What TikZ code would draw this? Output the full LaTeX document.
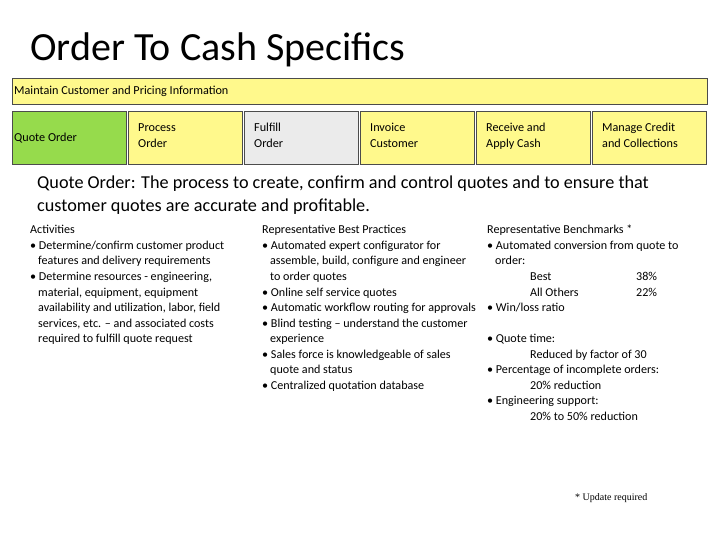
\documentclass[tikz,border=0pt]{standalone}
\usepackage{fontspec}
\setmainfont{Carlito}
\newfontfamily\notefont{Liberation Serif}
\tikzset{
  stepbox/.style={draw=black!70, anchor=north west, minimum width=114pt, minimum height=53pt, inner sep=0pt},
  boxtext/.style={anchor=north west, align=left, inner sep=0pt, font=\fontsize{12.2}{16}\selectfont},
  line/.style={anchor=base west, inner sep=0pt, font=\fontsize{12.1}{14}\selectfont},
}
\begin{document}
\begin{tikzpicture}[x=1pt, y=-1pt]
            \useasboundingbox (0,0) rectangle (728,546);
            \node[anchor=base west, inner sep=0pt, font=\fontsize{40}{44}\selectfont] (title) at (30,60) {Order To Cash Specifics};

            % process bar and steps
            \node[draw=black!70, fill=yellow!45, anchor=north west, minimum width=695pt, minimum height=26pt, inner sep=0pt] (bar) at (12,78) {};
            \node[anchor=west, inner sep=0pt, font=\fontsize{12.2}{14}\selectfont] (bartext) at (14,91) {Maintain Customer and Pricing Information};
            \node[stepbox, fill=green!55!black!45!lime!70] (quote) at (12,111) {};
            \node[stepbox, fill=yellow!45] (process) at (128,111) {};
            \node[stepbox, fill=black!8] (fulfill) at (244,111) {};
            \node[stepbox, fill=yellow!45] (invoice) at (360,111) {};
            \node[stepbox, fill=yellow!45] (receive) at (476,111) {};
            \node[stepbox, fill=yellow!45] (credit) at (592,111) {};
            \node[anchor=west, inner sep=0pt, font=\fontsize{12.2}{14}\selectfont] at ([xshift=2pt]quote.west) {Quote Order};
            \node[boxtext] at (138,123) {Process\\Order};
            \node[boxtext] at (254,123) {Fulfill\\Order};
            \node[boxtext] at (370,123) {Invoice\\Customer};
            \node[boxtext] at (486,123) {Receive and\\Apply Cash};
            \node[boxtext] at (602,123) {Manage Credit\\and Collections};

            % description
            \node[line, font=\fontsize{18.2}{20}\selectfont] (desc1) at (37,188) {Quote Order: The process to create, confirm and control quotes and to ensure that};
            \node[line, font=\fontsize{18.2}{20}\selectfont] (desc2) at (37,211) {customer quotes are accurate and profitable.};

            % activities
            \foreach \t/\x/\y in {Activities/30/233, {• Determine/confirm customer product}/30/249, {features and delivery requirements}/38/264,
              {• Determine resources - engineering,}/30/280, {material, equipment, equipment}/38/296, {availability and utilization, labor, field}/38/311,
              {services, etc. – and associated costs}/38/327, {required to fulfill quote request}/38/342}
              \node[line] at (\x,\y) {\t};

            % best practices
            \foreach \t/\x/\y in {Representative Best Practices/262/233, {• Automated expert configurator for}/262/249,
              {assemble, build, configure and engineer}/270/264, {to order quotes}/270/280, {• Online self service quotes}/262/296,
              {• Automatic workflow routing for approvals}/262/311, {• Blind testing – understand the customer}/262/327,
              {experience}/270/342, {• Sales force is knowledgeable of sales}/262/358, {quote and status}/270/373,
              {• Centralized quotation database}/262/389}
              \node[line] at (\x,\y) {\t};

            % benchmarks
            \foreach \t/\x/\y in {Representative Benchmarks */487/233, {• Automated conversion from quote to}/487/249,
              {order:}/495/264, Best/530/280, 38\%/636/280, All Others/530/296, 22\%/636/296, {• Win/loss ratio}/487/311,
              {• Quote time:}/487/342, {Reduced by factor of 30}/530/358, {• Percentage of incomplete orders:}/487/373,
              20\% reduction/530/389, {• Engineering support:}/487/404, 20\% to 50\% reduction/530/420}
              \node[line] at (\x,\y) {\t};

            \node[line, font=\notefont\fontsize{10}{12}\selectfont] (note) at (575,500) {* Update required};
        \end{tikzpicture}
\end{document}
